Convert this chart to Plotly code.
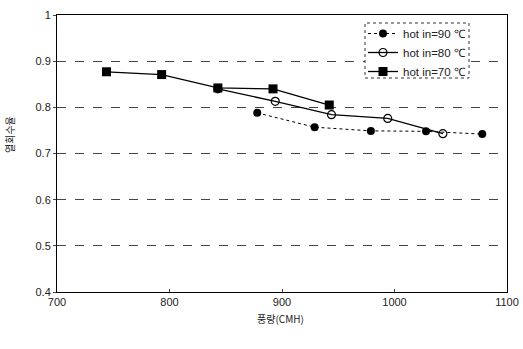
import plotly.graph_objects as go

x90 = [878, 929, 979, 1028, 1078]
y90 = [0.788, 0.757, 0.749, 0.748, 0.742]
x80 = [843, 894, 944, 994, 1043]
y80 = [0.840, 0.813, 0.784, 0.776, 0.743]
x70 = [744, 793, 843, 892, 942]
y70 = [0.877, 0.871, 0.842, 0.840, 0.805]

names = ["hot in=90 ℃", "hot in=80 ℃", "hot in=70 ℃"]
xticks = [700, 800, 900, 1000, 1100]
yticks = [0.4, 0.5, 0.6, 0.7, 0.8, 0.9, 1.0]
ytick_text = ["0.4", "0.5", "0.6", "0.7", "0.8", "0.9", "1"]

fig = go.Figure()
fig.add_trace(go.Scatter(x=x90, y=y90, name=names[0], mode="lines+markers",
                         line=dict(color="black", width=1, dash="dot"),
                         marker=dict(symbol="circle", size=8, color="black")))
fig.add_trace(go.Scatter(x=x80, y=y80, name=names[1], mode="lines+markers",
                         line=dict(color="black", width=1.3),
                         marker=dict(symbol="circle-open", size=8, color="black", line=dict(width=1.2))))
fig.add_trace(go.Scatter(x=x70, y=y70, name=names[2], mode="lines+markers",
                         line=dict(color="black", width=1.3),
                         marker=dict(symbol="square", size=9, color="black")))

font = "Liberation Sans, Arial, sans-serif"
W, H = 523, 349
L, R, T, B = 57, 16, 15, 57
pw, ph = W - L - R, H - T - B


def px(xp):
    return (xp - L) / pw


def py(yp):
    return (H - B - yp) / ph


fig.update_layout(
    width=W, height=H,
    margin=dict(l=L, r=R, t=T, b=B, autoexpand=False),
    paper_bgcolor="white", plot_bgcolor="white",
    font=dict(family=font, size=11, color="#222"),
    showlegend=True,
    legend=dict(x=px(363), y=py(19), xanchor="left", yanchor="top",
                bgcolor="rgba(0,0,0,0)", borderwidth=0,
                font=dict(size=11.5), tracegroupgap=0, itemwidth=30),
    xaxis=dict(range=[700, 1100], tickvals=xticks, showgrid=False, automargin=False,
               showline=True, linecolor="black", linewidth=1, mirror=True,
               ticks="inside", ticklen=3, zeroline=False),
    yaxis=dict(range=[0.4, 1.0], tickvals=yticks, ticktext=ytick_text, automargin=False,
               showgrid=True, gridcolor="#444", griddash="dash", gridwidth=1,
               showline=True, linecolor="black", linewidth=1, mirror=True,
               ticks="outside", ticklen=3, zeroline=False),
    shapes=[dict(type="rect", xref="paper", yref="paper",
                 x0=px(365), x1=px(469), y0=py(78), y1=py(23),
                 line=dict(color="#333", width=1, dash="dot"), fillcolor="white", layer="above")],
    annotations=[
        dict(text="풍량(CMH)", xref="paper", yref="paper", x=px(280), y=py(318),
             xanchor="center", yanchor="middle", showarrow=False,
             font=dict(family="Noto Sans CJK KR", size=10)),
        dict(text="열회수율", xref="paper", yref="paper", x=px(9), y=py(135),
             xanchor="center", yanchor="middle", showarrow=False, textangle=-90,
             font=dict(family="Noto Sans CJK KR", size=10)),
    ],
)

fig.write_html("out.html", config={"displayModeBar": False},
               post_script="document.body.style.margin='0';document.body.style.padding='0';")
